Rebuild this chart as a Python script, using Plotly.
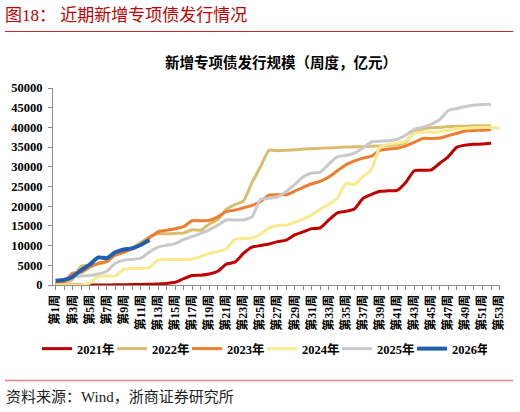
import plotly.graph_objects as go

# 周次与年份
weeks = [f"第{i}周" for i in range(1, 54)]
years = ["2021年", "2022年", "2023年", "2024年", "2025年", "2026年"]

# 新增专项债累计发行规模（亿元），按周读取
y2021 = [0, 0, 0, 0, 0, 0, 0, 50, 80, 100, 150, 200, 250,
         400, 700, 1600, 2400, 2500, 2800, 3500, 5300, 5800, 8000,
         9600, 10000, 10400, 11000, 11400, 12700, 13500, 14300, 14500, 16500,
         18300, 18700, 19300, 22000, 23000, 23800, 23900, 24000, 26000, 29000,
         29100, 29200, 30900, 32600, 35000, 35500, 35700, 35800, 36000]
y2022 = [0, 300, 1500, 4800, 5000, 5300, 5900, 7800, 8600, 9500, 10800, 12200, 13000, 13000,
         13100, 13200, 14000, 13900, 15500, 16600, 19200, 20400, 21300, 26000, 30000, 34200,
         34100, 34200, 34300, 34500,
         34600, 34700, 34800, 34900, 35000, 35100, 35100, 35200, 35300, 35400, 35600,
         36200, 38800, 39600, 39900, 40000, 40200, 40300, 40300, 40400, 40400, 40400]
y2023 = [300, 800, 3000, 3200, 4500, 5500, 6000, 7600, 8300, 9200, 10300, 12000, 13500,
         13900, 14300, 14800, 16300, 16300, 16400, 17300, 18600, 19000, 19600, 20200, 21200,
         22800, 22900, 22900, 23800, 24800,
         25700, 26300, 27400, 29000, 30500, 31500, 32200, 32700, 34200, 34500, 34700,
         35300, 36200, 37200, 37200, 37300, 37900, 38500, 39100, 39200, 39300, 39400]
y2024 = [0, 0, 0, 0, 500, 2200, 2300, 2300, 4000, 4200, 4200, 4500, 6400,
         6500, 6500, 6500, 6600, 7200, 8000, 8500, 9200, 11500, 11800, 11900, 12900,
         14500, 15100, 15200, 15900,
         16700, 17800, 19200, 20500, 22000, 25800, 25500, 27500, 29300, 35000, 35700,
         36000, 36500, 38500, 38800, 38800, 38900, 39300, 39700, 39800, 39900, 40000,
         40000, 39800]
y2025 = [1000, 1500, 2000, 2300, 2400, 2800, 3500, 5500, 6300, 6500, 6800, 8400, 9600,
         10100, 10500,
         11600, 12300, 13100, 14000, 15200, 16500, 16500, 16500, 17300, 21700, 22000,
         22400, 23700, 25500, 27500,
         28400, 28600, 30700, 32500, 32900, 33500, 34800, 36300, 36500, 36600, 37000,
         38000, 39500, 40000, 40800, 42000, 44300, 44800, 45300, 45700, 45800, 45900]
y2026 = [1100, 1300, 2100, 3800, 5200, 7000, 6800, 8300, 9000, 9300, 10200, 11400]

series = [y2021, y2022, y2023, y2024, y2025, y2026]
colors = ["#C00000", "#D9BC6C", "#ED7D31", "#FAEA8E", "#C9C9C9", "#1F5FAD"]
widths = [3, 3, 3, 3, 3, 4]

FONT = "Liberation Serif, Noto Sans CJK SC"

# 绘图区像素位置，用于把页眉页脚换算成 paper 坐标
PL, PR, PT, PB = 53, 500, 88, 285


def px_x(px):
    return (px - PL) / (PR - PL)


def px_y(py):
    return (PB - py) / (PB - PT)


fig = go.Figure()
for name, vals, color, w in zip(years, series, colors, widths):
    fig.add_trace(go.Scatter(
        x=weeks[:len(vals)], y=vals, mode="lines", name=name,
        line=dict(color=color, width=w, shape="spline", smoothing=0.5),
    ))

ticktext = [wk if i % 2 == 0 else "" for i, wk in enumerate(weeks)]

fig.update_layout(
    width=520, height=412, autosize=False,
    margin=dict(l=PL, r=520 - PR, t=PT, b=412 - PB),
    paper_bgcolor="white", plot_bgcolor="white",
    font=dict(family=FONT, color="black"),
    xaxis=dict(
        type="category", categoryorder="array", categoryarray=weeks,
        range=[-0.3, 52.05], automargin=False,
        showline=True, linecolor="#8C8C8C", linewidth=1,
        ticks="outside", ticklen=4, tickcolor="#8C8C8C",
        tickvals=weeks, ticktext=ticktext, tickangle=-90,
        tickfont=dict(size=12, family=FONT, weight="bold"),
        showgrid=False, zeroline=False,
    ),
    yaxis=dict(
        range=[0, 50000], dtick=5000, tickformat="d", automargin=False,
        showline=True, linecolor="#8C8C8C", linewidth=1,
        ticks="outside", ticklen=4, tickcolor="#8C8C8C",
        tickfont=dict(size=12.5, family=FONT, weight="bold"),
        ticklabelstandoff=3,
        showgrid=False, zeroline=False,
    ),
    legend=dict(
        orientation="h", xref="container", yref="container",
        x=37 / 520, y=1 - 349 / 412, xanchor="left", yanchor="middle",
        font=dict(size=12.5, family=FONT, weight="bold"),
        entrywidthmode="pixels", entrywidth=30,
        bgcolor="rgba(0,0,0,0)",
    ),
)

fig.add_annotation(
    x=px_x(3), y=px_y(15), xref="paper", yref="paper",
    xanchor="left", yanchor="middle", showarrow=False,
    text="图18：\u00a0近期新增专项债发行情况",
    font=dict(size=17, color="#C00000", family=FONT),
)
fig.add_annotation(
    x=px_x(281), y=px_y(62), xref="paper", yref="paper",
    xanchor="center", yanchor="middle", showarrow=False,
    text="<b>新增专项债发行规模（周度，亿元）</b>",
    font=dict(size=14.5, color="black", family=FONT),
)
fig.add_annotation(
    x=px_x(4), y=px_y(397), xref="paper", yref="paper",
    xanchor="left", yanchor="middle", showarrow=False,
    text="资料来源：Wind，浙商证券研究所",
    font=dict(size=15, color="#222222", family=FONT),
)
fig.add_shape(type="line", xref="paper", yref="paper",
              x0=px_x(5), x1=px_x(513), y0=px_y(31.5), y1=px_y(31.5),
              line=dict(color="#C0282D", width=1))
fig.add_shape(type="line", xref="paper", yref="paper",
              x0=px_x(5), x1=px_x(513), y0=px_y(380.5), y1=px_y(380.5),
              line=dict(color="#E08585", width=1.5))

# 去掉页面默认边距，让图表贴齐窗口左上角；隐藏工具栏
fig.write_html("out.html", config={"displayModeBar": False},
               post_script="document.body.style.margin='0';")
